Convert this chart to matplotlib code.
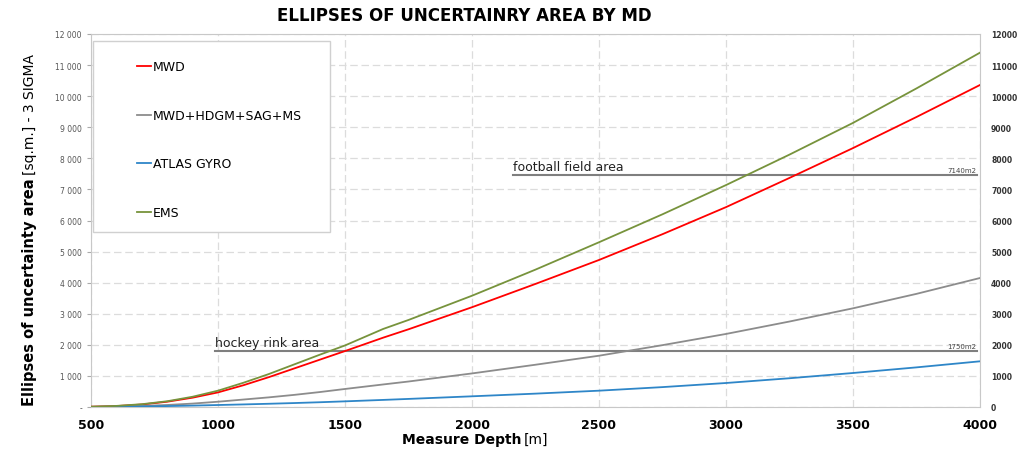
import numpy as np
import matplotlib
matplotlib.use("Agg")
import matplotlib.pyplot as plt
from matplotlib.patches import Rectangle
from matplotlib.ticker import FuncFormatter

# measured depth, m
depth = [500, 600, 700, 800, 900, 1000, 1100, 1200, 1300, 1400, 1500, 1650, 1750,
         2000, 2250, 2500, 2750, 3000, 3250, 3500, 3750, 4000]

mwd = [10, 30, 80, 170, 300, 470, 700, 960, 1240, 1520, 1800, 2230, 2500,
       3210, 3960, 4730, 5560, 6430, 7370, 8330, 9330, 10360]
mwd_full = [5, 15, 35, 65, 110, 170, 240, 310, 390, 480, 580, 725, 820,
            1080, 1360, 1650, 1990, 2350, 2750, 3175, 3640, 4150]
gyro = [2, 8, 18, 30, 45, 64, 83, 104, 127, 153, 182, 228, 260,
        344, 430, 525, 640, 772, 925, 1094, 1275, 1470]
ems = [10, 35, 90, 185, 330, 525, 780, 1060, 1370, 1680, 1980, 2510, 2800,
       3580, 4420, 5300, 6200, 7140, 8120, 9140, 10250, 11400]

names = ["MWD", "MWD+HDGM+SAG+MS", "ATLAS GYRO", "EMS"]
colors = ["#ff0000", "#8c8c8c", "#2e86c8", "#77933c"]

# reference areas
football = 7460
football_start = 2160
hockey = 1810
hockey_start = 990

fig = plt.figure(figsize=(10.24, 4.6), dpi=100)
ax = fig.add_axes([91/1024, 52/460, 889/1024, 373/460])

for vals, name, c in zip([mwd, mwd_full, gyro, ems], names, colors):
    ax.plot(depth, vals, color=c, lw=1.3, label=name, zorder=3)

ax.plot([football_start, 3990], [football, football], color="#7f7f7f", lw=1.5, zorder=2)
ax.plot([hockey_start, 3990], [hockey, hockey], color="#7f7f7f", lw=1.5, zorder=2)
ax.text(football_start, football + 60, "football field area", fontsize=9, va="bottom", color="#222222")
ax.text(hockey_start, hockey + 60, "hockey rink area", fontsize=9, va="bottom", color="#222222")
ax.text(3985, football + 60, "7140m2", fontsize=5, ha="right", va="bottom", color="#444444")
ax.text(3985, hockey + 60, "1750m2", fontsize=5, ha="right", va="bottom", color="#444444")

ax.set_xlim(500, 4000)
ax.set_ylim(0, 12000)
ax.set_xticks(np.arange(500, 4001, 500))
ax.set_yticks(np.arange(0, 12001, 1000))
ax.yaxis.set_major_formatter(FuncFormatter(
    lambda v, p: "-" if v == 0 else "{:,}".format(int(v)).replace(",", " ")))
ax.grid(True, color="#dcdcdc", ls=(0, (6, 3)), lw=0.9)
ax.set_axisbelow(True)
for s in ax.spines.values():
    s.set_color("#c8c8c8")
ax.tick_params(axis="y", labelsize=5.5, labelcolor="#555555", length=3, color="#aaaaaa")
ax.tick_params(axis="x", labelsize=9, length=0, pad=8)
for t in ax.get_xticklabels():
    t.set_fontweight("bold")

ax2 = ax.twinx()
ax2.set_ylim(0, 12000)
ax2.set_yticks(np.arange(0, 12001, 1000))
ax2.tick_params(axis="y", labelsize=5.5, length=0, pad=8, labelcolor="#333333")
for t in ax2.get_yticklabels():
    t.set_fontweight("bold")
for s in ax2.spines.values():
    s.set_visible(False)

# legend box, drawn on the top axes so the legend sits above it
box = Rectangle((93/1024, 1 - 233/460), 237/1024, 191/460,
                transform=fig.transFigure, facecolor="white",
                edgecolor="#d0d0d0", lw=1, zorder=5, clip_on=False)
ax2.add_patch(box)
handles, labels = ax.get_legend_handles_labels()
leg = ax2.legend(handles, labels, loc="upper left", bbox_to_anchor=(126/1024, 1 - 50/460),
                 bbox_transform=fig.transFigure, frameon=False, fontsize=9,
                 handlelength=1.1, handletextpad=0.15, labelspacing=2.85)
leg.set_zorder(6)

fig.text(464/1024, 1 - 16/460, "ELLIPSES OF UNCERTAINRY AREA BY MD",
         fontsize=12, fontweight="bold", ha="center", va="center")
fig.text(521/1024, 1 - 440/460, "Measure Depth", fontsize=10, fontweight="bold",
         ha="right", va="center")
fig.text(524/1024, 1 - 440/460, "[m]", fontsize=10, ha="left", va="center")
fig.text(30/1024, 1 - 178/460, "Ellipses of uncertainty area", fontsize=10.5,
         fontweight="bold", rotation=90, ha="center", va="top")
fig.text(30/1024, 1 - 175/460, "[sq.m.] - 3 SIGMA", fontsize=10,
         rotation=90, ha="center", va="bottom")

fig.savefig("out.png", dpi=100)
